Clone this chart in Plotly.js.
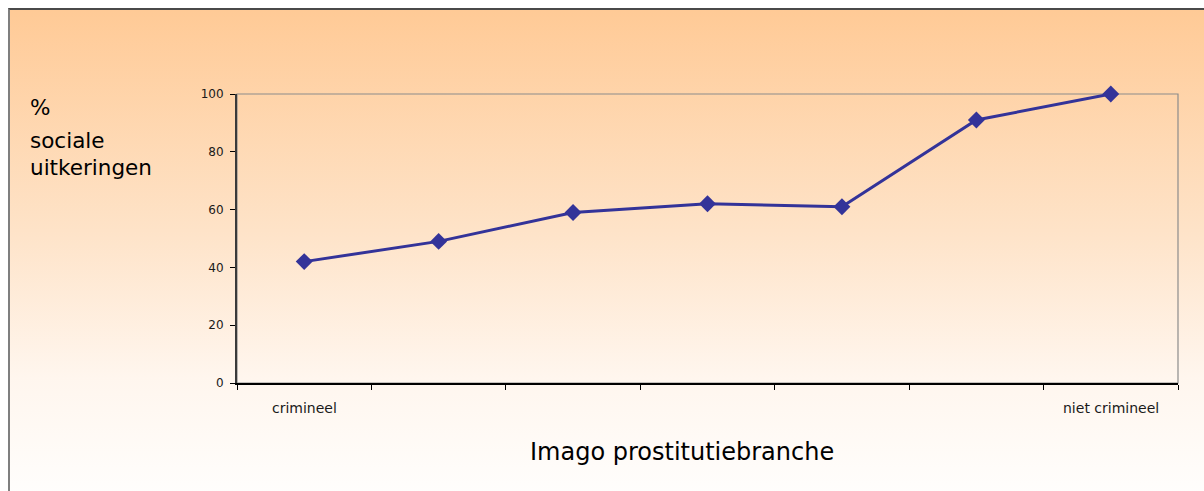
<!DOCTYPE html>
<html>
<head>
<meta charset="utf-8">
<script src="https://cdn.plot.ly/plotly-3.0.1.min.js"></script>
<style>
  html, body { margin: 0; padding: 0; background: #ffffff; }
  #wrap { position: relative; width: 1204px; height: 491px; overflow: hidden; background: #ffffff; }
  #bg { position: absolute; left: 8px; top: 8px; width: 1200px; height: 490px;
        border-top: 2px solid #4a4a4a; border-left: 2px solid #7f7f7f;
        background: linear-gradient(to bottom, #ffca96 0%, #fee3c8 45%, #fff6ee 75%, #fffefd 100%); }
  #chart { position: absolute; left: 0; top: 0; width: 1204px; height: 491px; }
</style>
</head>
<body>
<div id="wrap">
  <div id="bg"></div>
  <div id="chart"></div>
</div>
<script>
// Data
const positions = [1, 2, 3, 4, 5, 6, 7];
const categoryLabels = ['crimineel', '', '', '', '', '', 'niet crimineel'];
const values = [42, 49, 59, 62, 61, 91, 100];
const yTickValues = [0, 20, 40, 60, 80, 100];
const boundaryTicks = [0.5, 1.5, 2.5, 3.5, 4.5, 5.5, 6.5, 7.5];
const yTitleLines = ['%', 'sociale', 'uitkeringen'];
const xTitle = 'Imago prostitutiebranche';

const font = 'DejaVu Sans, Verdana, sans-serif';

// plot area geometry (pixels)
const L = 237, R = 26, T = 94, B = 108, W = 1204, H = 491;
const pw = W - L - R, ph = H - T - B;
const px = (x) => (x - L) / pw;
const py = (y) => (H - B - y) / ph;

const trace = {
  x: positions,
  y: values,
  type: 'scatter',
  mode: 'lines+markers',
  line: { color: '#333399', width: 3 },
  marker: { symbol: 'diamond', size: 13, color: '#333399' },
  hoverinfo: 'skip',
  cliponaxis: false
};

const annotations = [];
categoryLabels.forEach((lab, i) => {
  if (lab) {
    annotations.push({
      x: positions[i], y: py(408), xref: 'x', yref: 'paper',
      yanchor: 'middle', xanchor: 'center',
      text: lab, showarrow: false,
      font: { family: font, size: 14, color: '#1a1a1a' }
    });
  }
});
const yTitleCenters = [108, 140, 167];
yTitleLines.forEach((t, i) => {
  annotations.push({
    x: px(28), y: py(yTitleCenters[i]), xref: 'paper', yref: 'paper', showarrow: false,
    xanchor: 'left', yanchor: 'middle', align: 'left',
    text: t,
    font: { family: font, size: 21.5, color: '#000000' }
  });
});
annotations.push({
  x: px(682), y: py(452), xref: 'paper', yref: 'paper', showarrow: false,
  xanchor: 'center', yanchor: 'middle',
  text: xTitle,
  font: { family: font, size: 24, color: '#000000' }
});

const layout = {
  width: W, height: H,
  margin: { l: L, r: R, t: T, b: B, pad: 0 },
  paper_bgcolor: 'rgba(0,0,0,0)',
  plot_bgcolor: 'rgba(0,0,0,0)',
  showlegend: false,
  xaxis: {
    range: [0.5, 7.5],
    tickmode: 'array',
    tickvals: boundaryTicks,
    ticktext: boundaryTicks.map(() => ''),
    ticks: 'outside', ticklen: 5, tickwidth: 1, tickcolor: '#000000',
    showgrid: false, zeroline: false,
    showline: true, linecolor: '#000000', linewidth: 1.5,
    fixedrange: true
  },
  yaxis: {
    range: [0, 100],
    tickmode: 'array',
    tickvals: yTickValues,
    ticks: 'outside', ticklen: 5, tickwidth: 1, tickcolor: '#000000',
    ticklabelstandoff: 4,
    tickfont: { family: font, size: 12, color: '#1a1a1a' },
    showgrid: false, zeroline: false,
    showline: true, linecolor: '#3a3a3a', linewidth: 2,
    fixedrange: true
  },
  shapes: [
    { type: 'rect', xref: 'paper', yref: 'paper', x0: 0, x1: 1, y0: 0, y1: 1,
      line: { color: '#8c8c8c', width: 1.2 }, fillcolor: 'rgba(0,0,0,0)', layer: 'below' }
  ],
  annotations: annotations
};

Plotly.newPlot('chart', [trace], layout, { staticPlot: true, displayModeBar: false });
</script>
</body>
</html>
